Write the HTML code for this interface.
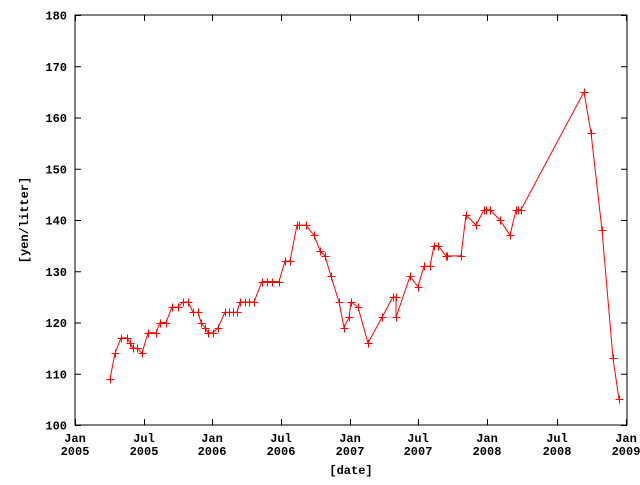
<!DOCTYPE html>
<html><head><style>body{margin:0;background:#fff}svg text{font-family:"Liberation Mono",monospace;font-size:12px;font-weight:bold;fill:#000}</style></head><body>
<svg width="640" height="480" xmlns="http://www.w3.org/2000/svg">
<rect x="75" y="15" width="552" height="410" fill="none" stroke="#000" stroke-width="1"/>
<g id="ax" stroke="#000" stroke-width="1"></g>
<g id="lab"></g>
<polyline id="ln" fill="none" stroke="#f00" stroke-width="1"/>
<g id="pts" stroke="#f00" stroke-width="1"></g>
<text x="28" y="220" text-anchor="middle" transform="rotate(-90 28 220)">[yen/litter]</text>
<text x="351" y="474" text-anchor="middle">[date]</text>
<script>
var ns="http://www.w3.org/2000/svg";
function el(t,a,p,txt){var e=document.createElementNS(ns,t);for(var k in a)e.setAttribute(k,a[k]);if(txt)e.textContent=txt;document.getElementById(p).appendChild(e);}
function Y(v){return 425-(v-100)*5.125;}
for(var v=100;v<=180;v+=10){var y=Y(v)+0.5;el('line',{x1:75,y1:y,x2:81,y2:y},'ax');el('line',{x1:627,y1:y,x2:621,y2:y},'ax');el('text',{x:67,y:y+4,'text-anchor':'end'},'lab',v);}
var xs=[[75,'Jan','2005'],[144,'Jul','2005'],[212,'Jan','2006'],[281,'Jul','2006'],[350,'Jan','2007'],[418,'Jul','2007'],[487,'Jan','2008'],[557,'Jul','2008'],[626,'Jan','2009']];
xs.forEach(function(a){var x=a[0]+0.5;el('line',{x1:x,y1:425,x2:x,y2:419},'ax');el('line',{x1:x,y1:15,x2:x,y2:21},'ax');el('text',{x:a[0],y:442,'text-anchor':'middle'},'lab',a[1]);el('text',{x:a[0],y:455,'text-anchor':'middle'},'lab',a[2]);});
var d=[[110,109],[115,114],[121,117],[127,117],[130,116],[133,115],[137,115],[142,114],[148,118],[156,118],[160,120],[166,120],[172,123],[178,123],[183,124],[188,124],[193,122],[198,122],[201,120],[205,119],[208,118],[213,118],[218,119],[225,122],[229,122],[233,122],[237,122],[240,124],[245,124],[249,124],[254,124],[262,128],[267,128],[272,128],[279,128],[285,132],[290,132],[297,139],[299,139],[306,139],[314,137],[320,134],[325,133],[331,129],[339,124],[344,119],[349,121],[351,124],[358,123],[368,116],[382,121],[393,125],[396,125],[396,121],[410,129],[418,127],[424,131],[430,131],[434,135],[438,135],[446,133],[447,133],[461,133],[466,141],[476,139],[484,142],[486,142],[490,142],[500,140],[510,137],[516,142],[518,142],[521,142],[584,165],[591,157],[602,138],[613,113],[619,105]];
document.getElementById('ln').setAttribute('points',d.map(function(p){return p[0]+','+Y(p[1]);}).join(' '));
d.forEach(function(p){var x=p[0]+0.5,y=Math.round(Y(p[1]))+0.5;el('line',{x1:x-4,y1:y,x2:x+4,y2:y},'pts');el('line',{x1:x,y1:y-4,x2:x,y2:y+4},'pts');});
</script>
</svg></body></html>
